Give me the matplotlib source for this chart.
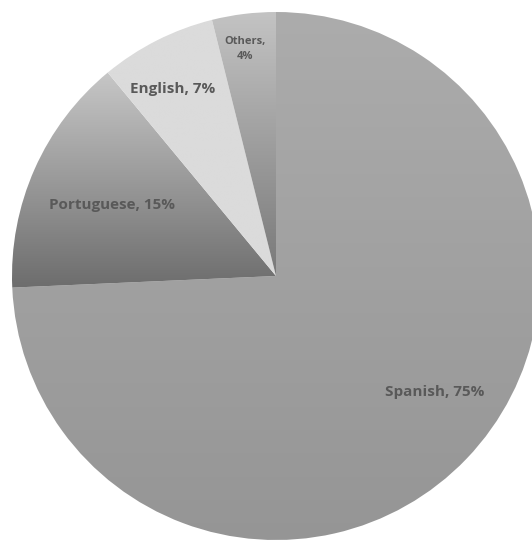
import matplotlib.pyplot as plt
import numpy as np
from matplotlib.colors import LinearSegmentedColormap

languages = ["Spanish", "Portuguese", "English", "Others"]
shares = [74.3, 14.7, 7.1, 3.9]
labels = ["Spanish, 75%", "Portuguese, 15%", "English, 7%", "Others,\n4%"]

# top / bottom shade of each slice's vertical gradient
top_colors = ["#acacac", "#c8c8c8", "#dbdbdb", "#c4c4c4"]
bottom_colors = ["#959595", "#6c6c6c", "#dbdbdb", "#787878"]

fig = plt.figure(figsize=(5.32, 5.44), dpi=100)
ax = fig.add_axes([12 / 532, 4 / 544, 528 / 532, 528 / 544])

wedges, _ = ax.pie(shares, startangle=90, counterclock=False, radius=1,
                   wedgeprops=dict(linewidth=0))
ax.set_aspect("equal")
ax.axis("off")

# paint each wedge with a vertical gradient clipped to its shape
for w, c_top, c_bot in zip(wedges, top_colors, bottom_colors):
    w.set_facecolor("none")
    verts = w.get_path().vertices
    ymin, ymax = verts[:, 1].min(), verts[:, 1].max()
    xmin, xmax = verts[:, 0].min(), verts[:, 0].max()
    cmap = LinearSegmentedColormap.from_list("g", [c_bot, c_top])
    grad = np.linspace(0, 1, 256).reshape(-1, 1)
    im = ax.imshow(grad, cmap=cmap, origin="lower", aspect="auto",
                   extent=[xmin - 0.01, xmax + 0.01, ymin - 0.01, ymax + 0.01],
                   interpolation="bilinear", zorder=1)
    im.set_clip_path(w)
ax.set_xlim(-1, 1)
ax.set_ylim(-1, 1)

# label positions in data units
label_pos = [(0.60, -0.44), (-0.62, 0.27), (-0.39, 0.71), (-0.118, 0.86)]
sizes = [11, 11, 11, 8]
for txt, (x, y), s in zip(labels, label_pos, sizes):
    ax.text(x, y, txt, ha="center", va="center", fontsize=s,
            fontweight="bold", color="#595959", family="Open Sans",
            linespacing=1.45, zorder=3)

fig.savefig("out.png", dpi=100)
